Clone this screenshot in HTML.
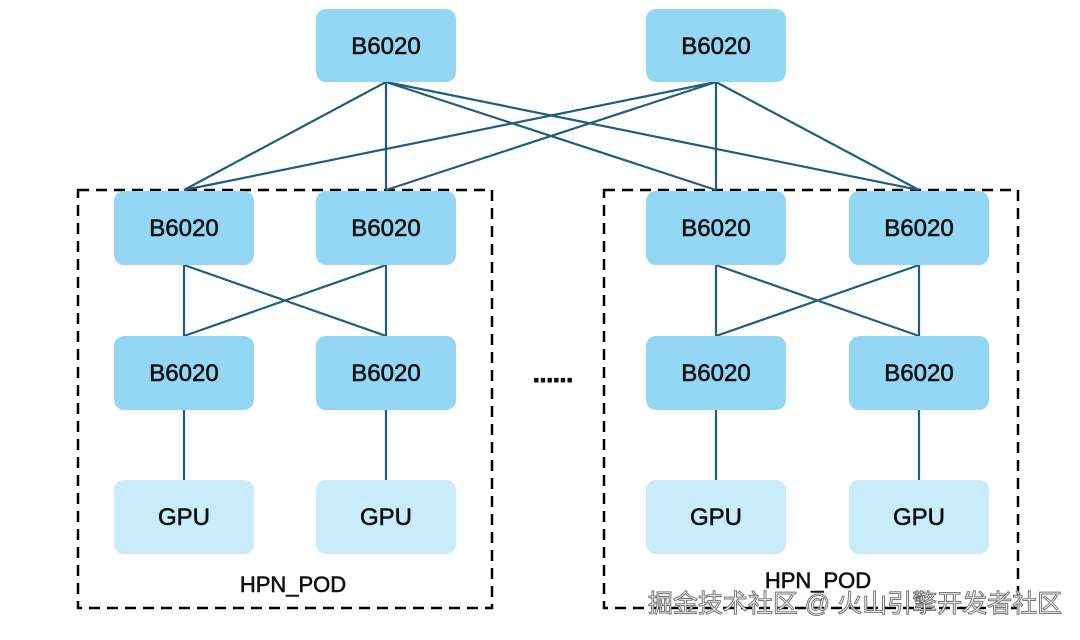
<!DOCTYPE html>
<html><head><meta charset="utf-8"><style>
body{margin:0;width:1080px;height:635px;background:#fff;overflow:hidden;font-family:"Liberation Sans","Noto Sans CJK SC",sans-serif}
</style></head><body>
<svg width="1080" height="635" viewBox="0 0 1080 635" xmlns="http://www.w3.org/2000/svg" font-family="Liberation Sans, Noto Sans CJK SC, sans-serif">
<g fill="none" stroke="#000" stroke-width="2.5" stroke-dasharray="11,7">
<rect x="78" y="190" width="414" height="418"/>
<rect x="604" y="190" width="414" height="418"/>
</g>
<g stroke="#1f5e7c" stroke-width="2.2" fill="none">
<line x1="386" y1="82" x2="184" y2="190"/><line x1="386" y1="82" x2="386" y2="190"/>
<line x1="386" y1="82" x2="716" y2="190"/><line x1="386" y1="82" x2="919" y2="190"/>
<line x1="716" y1="82" x2="184" y2="190"/><line x1="716" y1="82" x2="386" y2="190"/>
<line x1="716" y1="82" x2="716" y2="190"/><line x1="716" y1="82" x2="919" y2="190"/>
<path d="M184 265V336L386 265V336L184 265"/>
<path d="M716 265V336L919 265V336L716 265"/>
<line x1="184" y1="410" x2="184" y2="480"/><line x1="386" y1="410" x2="386" y2="480"/>
<line x1="716" y1="410" x2="716" y2="480"/><line x1="919" y1="410" x2="919" y2="480"/>
</g>
<g fill="#93d7f4">
<rect x="316" y="9" width="140" height="73" rx="10"/><rect x="646" y="9" width="140" height="73" rx="10"/>
<rect x="114" y="191" width="140" height="74" rx="10"/><rect x="316" y="191" width="140" height="74" rx="10"/>
<rect x="646" y="191" width="140" height="74" rx="10"/><rect x="849" y="191" width="140" height="74" rx="10"/>
<rect x="114" y="336" width="140" height="74" rx="10"/><rect x="316" y="336" width="140" height="74" rx="10"/>
<rect x="646" y="336" width="140" height="74" rx="10"/><rect x="849" y="336" width="140" height="74" rx="10"/>
</g>
<g fill="#c8ecf9">
<rect x="114" y="480" width="140" height="74" rx="10"/><rect x="316" y="480" width="140" height="74" rx="10"/>
<rect x="646" y="480" width="140" height="74" rx="10"/><rect x="849" y="480" width="140" height="74" rx="10"/>
</g>
<g font-size="24" text-anchor="middle" fill="#111" stroke="#111" stroke-width="0.6">
<text x="386" y="54">B6020</text><text x="716" y="54">B6020</text>
<text x="184" y="236">B6020</text><text x="386" y="236">B6020</text><text x="716" y="236">B6020</text><text x="919" y="236">B6020</text>
<text x="184" y="381">B6020</text><text x="386" y="381">B6020</text><text x="716" y="381">B6020</text><text x="919" y="381">B6020</text>
<text x="184" y="525">GPU</text><text x="386" y="525">GPU</text><text x="716" y="525">GPU</text><text x="919" y="525">GPU</text>
<text x="293" y="592" font-size="22">HPN_POD</text><text x="818" y="588" font-size="22">HPN_POD</text>
<text x="553" y="382" font-size="24" font-weight="bold" stroke-width="1">......</text>
</g>
<text x="855" y="612" font-size="25" text-anchor="middle" fill="#fff" stroke="#777" stroke-width="1">掘金技术社区 @ 火山引擎开发者社区</text>
</svg>
</body></html>
